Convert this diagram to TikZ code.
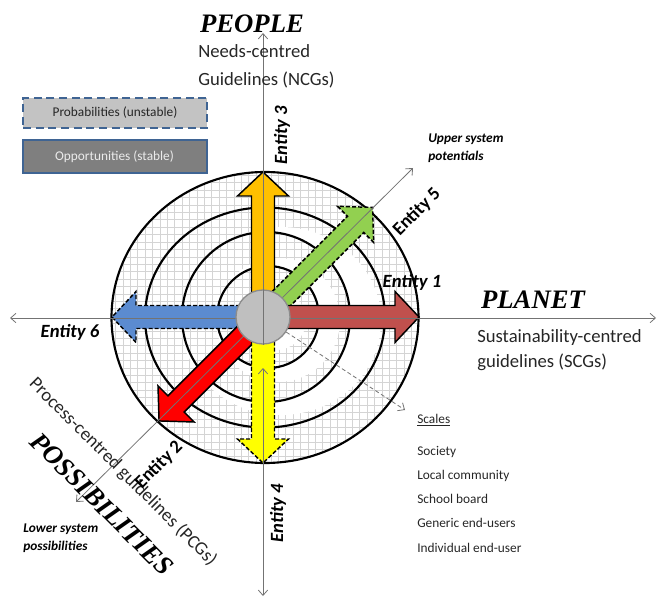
\documentclass[tikz,border=0pt]{standalone}
\usepackage{fontspec}
\setmainfont{Carlito}
\newfontfamily\titlefont{Liberation Serif}
\usetikzlibrary{arrows.meta}

\definecolor{eOrange}{HTML}{FFC000}
\definecolor{eGreen}{HTML}{92D050}
\definecolor{eBrick}{HTML}{C0504D}
\definecolor{eBlue}{HTML}{5B8BD0}
\definecolor{eRed}{HTML}{FF0000}
\definecolor{eYellow}{HTML}{FFFF00}
\definecolor{hubFill}{HTML}{BFBFBF}
\definecolor{hubEdge}{HTML}{8C8C8C}
\definecolor{boxEdge}{HTML}{3F6493}
\definecolor{boxLight}{HTML}{C3C3C3}
\definecolor{boxDark}{HTML}{7F7F7F}
\definecolor{inkGray}{HTML}{262626}

% block arrow along local x axis: style, origin, angle, length
\newcommand\bigarrow[4]{%
  \begin{scope}[shift={#2}, rotate=#3]
    \path[#1] (0,-11.5) -- ({#4-24},-11.5) -- ({#4-24},-25.5) -- (#4,0)
      -- ({#4-24},25.5) -- ({#4-24},11.5) -- (0,11.5) -- cycle;
  \end{scope}}

\tikzset{
  ringline/.style={draw=black, line width=1.6pt},
  gridline/.style={draw=black!17, line width=0.45pt},
  axis/.style={draw=black!55, line width=0.6pt},
  tipend/.style={-{Straight Barb[length=4pt,width=7pt]}},
  tipboth/.style={{Straight Barb[length=4pt,width=7pt]}-{Straight Barb[length=4pt,width=7pt]}},
  solidarrow/.style={draw=black, line width=1.1pt, line join=miter},
  brokenarrow/.style={solidarrow, dash pattern=on 3pt off 1.6pt},
  entity/.style={font=\fontsize{14}{16}\selectfont\bfseries\itshape, inner sep=0pt},
  entityup/.style={font=\fontsize{14}{16}\selectfont\bfseries, inner sep=0pt},
  heading/.style={font=\titlefont\fontsize{20}{22}\selectfont\bfseries\itshape, inner sep=0pt},
  guide/.style={font=\fontsize{14}{16}\selectfont, text=inkGray, inner sep=0pt},
  note/.style={font=\fontsize{10}{12}\selectfont\bfseries\itshape, inner sep=0pt},
  scaleitem/.style={font=\fontsize{10}{12}\selectfont, text=inkGray, inner sep=0pt},
  legendbox/.style={minimum width=138pt, minimum height=23pt, inner sep=0pt,
    font=\fontsize{10}{12}\selectfont, line width=1.5pt}
}

\begin{document}
\begin{tikzpicture}[x=0.75pt, y=-0.75pt]
\useasboundingbox (0,0) rectangle (657,599);

% gridded disc
\begin{scope}
  \clip (265,317.5) ellipse [x radius=153.5, y radius=145.5];
  \foreach \gx in {108,115.4,...,425} \draw[gridline] (\gx,165) -- (\gx,470);
  \foreach \gy in {168,175.4,...,470} \draw[gridline] (105,\gy) -- (425,\gy);
  % white crescents on the outer side of the inner rings
  \fill[white] (281,321) ellipse [x radius=100, y radius=94];
  \fill[white] (278,320) ellipse [x radius=62, y radius=62];
  \fill[white] (276,320) ellipse [x radius=30, y radius=30];
\end{scope}
% grid again inside each inner ring
\begin{scope}
  \clip (265,317.5) ellipse [x radius=84, y radius=85];
  \foreach \gx in {182.8,190.2,...,355} \draw[gridline] (\gx,230) -- (\gx,405);
  \foreach \gy in {227.2,234.6,...,405} \draw[gridline] (180,\gy) -- (352,\gy);
  \fill[white] (278,320) ellipse [x radius=62, y radius=62];
\end{scope}
\begin{scope}
  \clip (268,317) ellipse [x radius=51, y radius=51];
  \foreach \gx in {212.2,219.6,...,320} \draw[gridline] (\gx,264) -- (\gx,370);
  \foreach \gy in {264.6,272,...,370} \draw[gridline] (215,\gy) -- (320,\gy);
  \fill[white] (276,320) ellipse [x radius=30, y radius=30];
\end{scope}

% concentric rings
\draw[ringline] (265,317.5) ellipse [x radius=153.5, y radius=145.5];
\draw[ringline] (265,317.5) ellipse [x radius=120, y radius=110];
\draw[ringline] (266,317) ellipse [x radius=84, y radius=85];
\draw[ringline] (268,317) ellipse [x radius=51, y radius=51];

% six entity arrows
\bigarrow{solidarrow, fill=eOrange}{(263,317)}{90}{145}
\bigarrow{brokenarrow, fill=eGreen}{(263,317)}{45}{155}
\bigarrow{solidarrow, fill=eBrick}{(263,317)}{0}{156}
\bigarrow{brokenarrow, fill=eBlue}{(263,317)}{180}{151}
\bigarrow{solidarrow, fill=eRed}{(263,317)}{225}{147}
\bigarrow{brokenarrow, fill=eYellow}{(263,317)}{270}{146}

% axis end points
\coordinate (hubC) at (263,317);
\coordinate (topEnd) at (263,33);
\coordinate (lowStart) at (263,368);
\coordinate (bottomEnd) at (263,596);
\coordinate (leftEnd) at (10,318);
\coordinate (rightEnd) at (656,318);
\coordinate (urEnd) at (413,168);
\coordinate (llEnd) at (76,502);
\coordinate (lrEnd) at (405,410);

\draw[axis, tipboth] (leftEnd) -- (rightEnd);
\draw[axis, tipend] (hubC) -- (urEnd);
\draw[axis, tipend] (hubC) -- (llEnd);

% hub
\node[circle, fill=hubFill, draw=hubEdge, line width=1pt, minimum size=40.5pt, inner sep=0pt] (hub) at (hubC) {};

\draw[axis, tipend] (hub.south) -- (topEnd);
\draw[axis, tipboth] (lowStart) -- (bottomEnd);
\draw[axis, densely dashed, tipend] (hub.-33) -- (lrEnd);

% legend
\node[legendbox, fill=boxLight, draw=boxEdge, dash pattern=on 6pt off 3.5pt, text=inkGray] (probBox) at (115,113) {Probabilities (unstable)};
\node[legendbox, fill=boxDark, draw=boxEdge, text=white!92!black, minimum height=25pt] (oppBox) at (114.5,156.5) {Opportunities (stable)};

% axis headings
\node[heading, anchor=base] (people) at (252,33) {PEOPLE};
\node[guide, anchor=base west] (ncgA) at (198,58) {Needs-centred};
\node[guide, anchor=base west] (ncgB) at (198,86) {Guidelines (NCGs)};

\node[heading, anchor=base] (planet) at (533,308) {PLANET};
\node[guide, anchor=base west] (scgA) at (477,342) {Sustainability-centred};
\node[guide, anchor=base west] (scgB) at (477,367) {guidelines (SCGs)};

\node[heading, rotate=-45] (possib) at (102,504) {POSSIBILITIES};
\node[guide, rotate=-45] (pcg) at (123,472) {Process-centred guidelines (PCGs)};

\node[note, anchor=base west] (upA) at (428,143) {Upper system};
\node[note, anchor=base west] (upB) at (428,161) {potentials};
\node[note, anchor=base west] (loA) at (23,532) {Lower system};
\node[note, anchor=base west] (loB) at (23,550) {possibilities};

% entity labels
\node[entity] (ent1) at (412,282) {Entity 1};
\node[entityup, rotate=45] (ent2) at (159,465) {Entity 2};
\node[entity, rotate=90] (ent3) at (282,135) {Entity 3};
\node[entity, rotate=90] (ent4) at (278,513) {Entity 4};
\node[entityup, rotate=45] (ent5) at (417,212) {Entity 5};
\node[entity] (ent6) at (70,332) {Entity 6};

% scales list
\node[scaleitem, anchor=base west] (scales) at (417,423) {\underline{Scales}};
\node[scaleitem, anchor=base west] (sc1) at (417,455) {Society};
\node[scaleitem, anchor=base west] (sc2) at (417,479) {Local community};
\node[scaleitem, anchor=base west] (sc3) at (417,503) {School board};
\node[scaleitem, anchor=base west] (sc4) at (417,527) {Generic end-users};
\node[scaleitem, anchor=base west] (sc5) at (417,552) {Individual end-user};
\end{tikzpicture}
\end{document}
